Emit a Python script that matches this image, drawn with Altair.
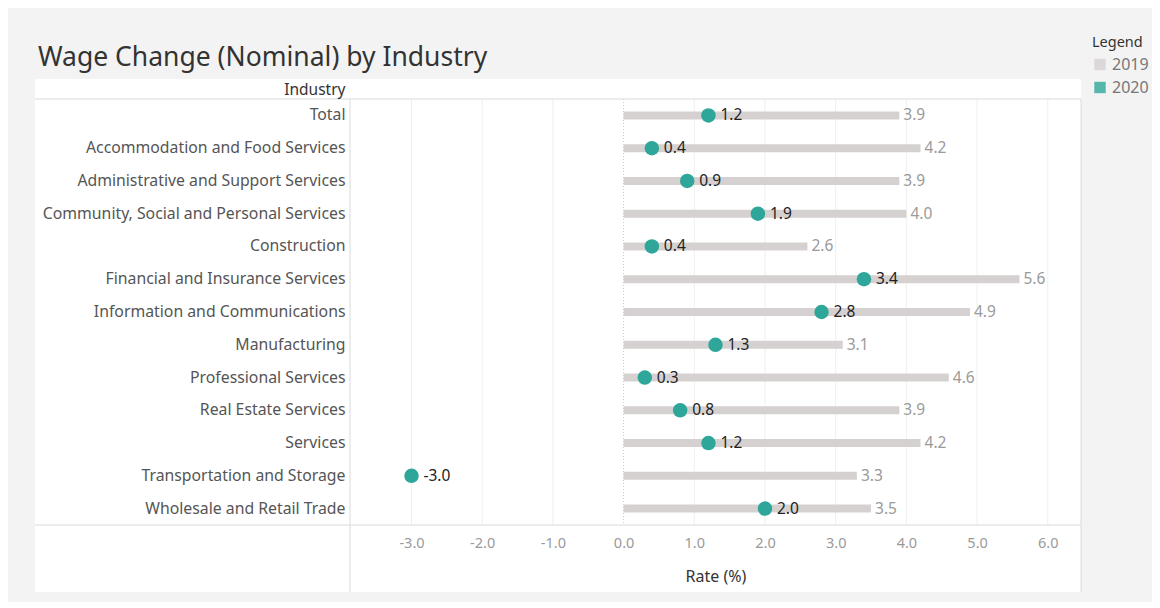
import altair as alt
import pandas as pd

industries = [
    "Total",
    "Accommodation and Food Services",
    "Administrative and Support Services",
    "Community, Social and Personal Services",
    "Construction",
    "Financial and Insurance Services",
    "Information and Communications",
    "Manufacturing",
    "Professional Services",
    "Real Estate Services",
    "Services",
    "Transportation and Storage",
    "Wholesale and Retail Trade",
]
rate_2019 = [3.9, 4.2, 3.9, 4.0, 2.6, 5.6, 4.9, 3.1, 4.6, 3.9, 4.2, 3.3, 3.5]
rate_2020 = [1.2, 0.4, 0.9, 1.9, 0.4, 3.4, 2.8, 1.3, 0.3, 0.8, 1.2, -3.0, 2.0]
tick_values = [-3, -2, -1, 0, 1, 2, 3, 4, 5, 6]

FONT = "Noto Sans"
W, H = 731, 426
LEFT = 315
HEAD = 20
FOOT = 67

rows = []
for ind, a, b in zip(industries, rate_2019, rate_2020):
    rows.append({"Industry": ind, "Year": "2019", "Rate": a})
    rows.append({"Industry": ind, "Year": "2020", "Rate": b})
df = pd.DataFrame(rows)
grid_df = pd.DataFrame({"t": tick_values})

xscale = alt.Scale(domain=[-3.87, 6.47], nice=False, zero=False)
yscale = alt.Scale(domain=industries, paddingInner=0, paddingOuter=0)
cscale = alt.Scale(domain=["2019", "2020"], range=["#d6d1d1", "#2ea699"])

y_enc = alt.Y(
    "Industry:N",
    scale=yscale,
    sort=industries,
    axis=alt.Axis(
        title="Industry",
        titleAngle=0,
        titleX=-5,
        titleY=-10,
        titleAlign="right",
        titleBaseline="middle",
        titleFontWeight="normal",
        titleFontSize=15.5,
        titleColor="#333333",
        titleFont=FONT,
        labelFont=FONT,
        labelFontSize=15.8,
        labelColor="#555555",
        labelPadding=5,
        labelLimit=0,
        ticks=False,
        domain=False,
        grid=False,
        zindex=1,
    ),
)
x_enc = alt.X(
    "Rate:Q",
    scale=xscale,
    axis=alt.Axis(
        title="Rate (%)",
        values=tick_values,
        format=".1f",
        labelExpr="replace(datum.label, '\u2212', '-')",
        labelFont=FONT,
        labelFontSize=14.5,
        labelColor="#9a9a9a",
        labelPadding=11,
        titleFont=FONT,
        titleFontSize=16,
        titleFontWeight="normal",
        titleColor="#333333",
        titlePadding=19,
        ticks=False,
        domain=False,
        grid=False,
        zindex=1,
    ),
)
color_enc = alt.Color(
    "Year:N",
    scale=cscale,
    legend=alt.Legend(
        title="Legend",
        orient="none",
        legendX=742,
        legendY=-63,
        symbolType="square",
        symbolSize=130,
        symbolOpacity=0.8,
        titleFont=FONT,
        titleFontSize=14.5,
        titleFontWeight="normal",
        titleColor="#333333",
        labelFont=FONT,
        labelFontSize=16,
        labelColor="#777777",
        rowPadding=7,
        titlePadding=6,
    ),
)

one = alt.Data(values=[{"k": 1}])

panel = alt.Chart(one).mark_rect(color="white").encode(
    x=alt.value(-LEFT), x2=alt.value(W), y=alt.value(-HEAD), y2=alt.value(H + FOOT)
)
line_top = alt.Chart(one).mark_rule(color="#dadada", strokeWidth=1).encode(
    x=alt.value(-LEFT), x2=alt.value(W), y=alt.value(0)
)
line_bottom = alt.Chart(one).mark_rule(color="#dadada", strokeWidth=1).encode(
    x=alt.value(-LEFT), x2=alt.value(W), y=alt.value(H)
)
line_left = alt.Chart(one).mark_rule(color="#dadada", strokeWidth=1).encode(
    x=alt.value(0), y=alt.value(0), y2=alt.value(H + FOOT)
)
line_right = alt.Chart(one).mark_rule(color="#dadada", strokeWidth=1).encode(
    x=alt.value(W), y=alt.value(0), y2=alt.value(H + FOOT)
)

grid = alt.Chart(grid_df).transform_filter("datum.t != 0").mark_rule(
    color="#efefef", strokeWidth=1
).encode(x=alt.X("t:Q", scale=xscale))
zero = alt.Chart(grid_df).transform_filter("datum.t == 0").mark_rule(
    color="#c8c8c8", strokeWidth=1, strokeDash=[1, 2]
).encode(x=alt.X("t:Q", scale=xscale))

base = alt.Chart(df).transform_calculate(
    label="replace(format(datum.Rate, '.1f'), '\u2212', '-')"
)

bars = base.transform_filter("datum.Year == '2019'").mark_bar(size=8).encode(
    x=x_enc, x2=alt.datum(0), y=y_enc, color=color_enc
)
txt19 = base.transform_filter("datum.Year == '2019'").mark_text(
    align="left", baseline="middle", dx=4, font=FONT, fontSize=15.5, color="#9a9a9a"
).encode(x="Rate:Q", y="Industry:N", text="label:N")
pts = base.transform_filter("datum.Year == '2020'").mark_circle(size=210, opacity=1).encode(
    x="Rate:Q", y="Industry:N", color=color_enc
)
txt20 = base.transform_filter("datum.Year == '2020'").mark_text(
    align="left", baseline="middle", dx=12, font=FONT, fontSize=15.5, color="#222222"
).encode(x="Rate:Q", y="Industry:N", text="label:N")

chart = alt.layer(
    panel, grid, zero, line_top, line_bottom, line_left, line_right, bars, txt19, pts, txt20
).properties(
    width=W,
    height=H,
    autosize=alt.AutoSizeParams(type="none"),
    padding={"left": 342, "top": 91, "right": 71, "bottom": 77},
    background="#f3f3f3",
    title=alt.TitleParams(
        "Wage Change (Nominal) by Industry",
        anchor="start",
        frame="group",
        dx=-312,
        dy=39,
        font=FONT,
        fontSize=26.5,
        fontWeight="normal",
        color="#333333",
    ),
).configure_view(stroke=None)

chart.save("out.html", embed_options={"renderer": "svg", "actions": False})
